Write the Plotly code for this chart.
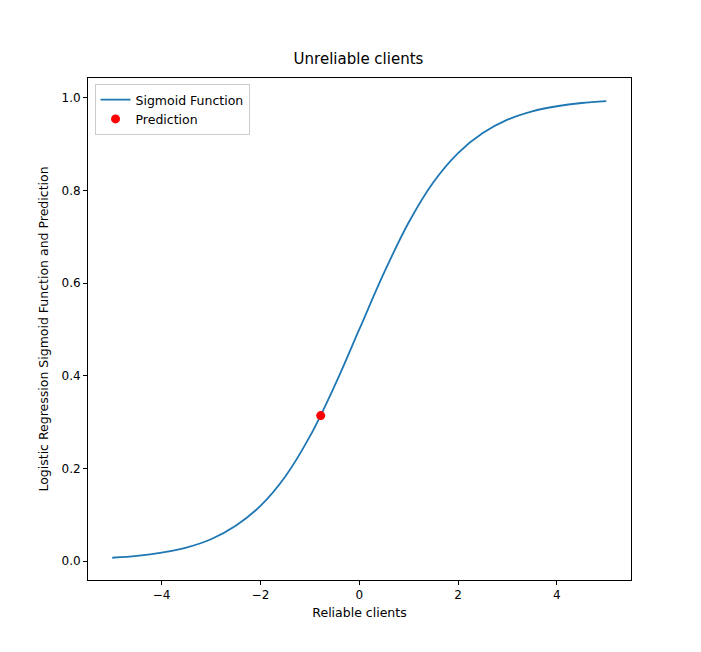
import plotly.graph_objects as go

# values
curve_x = [-5, -4.5, -4, -3.5, -3, -2.5, -2, -1.5, -1, -0.5, 0, 0.5, 1, 1.5, 2, 2.5, 3, 3.5, 4, 4.5, 5]
curve_y = [0.007, 0.011, 0.018, 0.029, 0.047, 0.076, 0.119, 0.182, 0.269, 0.378, 0.5,
           0.622, 0.731, 0.818, 0.881, 0.924, 0.953, 0.971, 0.982, 0.989, 0.993]
pred_x = [-0.78]
pred_y = [0.314]

fig = go.Figure()
fig.add_trace(go.Scatter(x=curve_x, y=curve_y, mode="lines", name="Sigmoid Function",
                         line=dict(color="#1f77b4", width=1.8, shape="spline")))
fig.add_trace(go.Scatter(x=pred_x, y=pred_y, mode="markers", name="Prediction",
                         marker=dict(color="red", size=9)))

axis = dict(showgrid=False, zeroline=False, showline=True, linecolor="black", linewidth=1,
            mirror=True, ticks="outside", ticklen=4, tickcolor="black",
            tickfont=dict(size=12, color="black"))
fig.update_layout(
    width=701, height=652,
    margin=dict(l=80, r=78, t=70, b=80),
    paper_bgcolor="white", plot_bgcolor="white",
    font=dict(family="DejaVu Sans", size=12, color="black"),
    title=dict(text="Unreliable clients", x=0.5, xanchor="center", y=0.93, font=dict(size=15)),
    xaxis=dict(axis, range=[-5.49, 5.5], tickvals=[-4, -2, 0, 2, 4],
               ticktext=["−4", "−2", "0", "2", "4"],
               title=dict(text="Reliable clients", standoff=6, font=dict(size=12.5))),
    yaxis=dict(axis, range=[-0.041, 1.043], tickvals=[0, 0.2, 0.4, 0.6, 0.8, 1.0],
               tickformat=".1f",
               title=dict(text="Logistic Regression Sigmoid Function and Prediction", standoff=10,
                          font=dict(size=12.5))),
    legend=dict(x=0.012, y=0.988, xanchor="left", yanchor="top", bordercolor="#cccccc",
                borderwidth=1, bgcolor="white", font=dict(size=12.5)),
)
fig.write_html("out.html")
